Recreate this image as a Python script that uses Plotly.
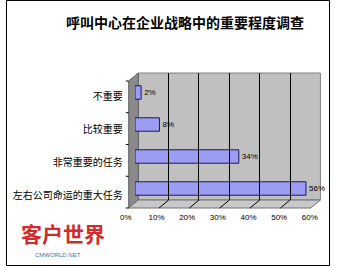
import plotly.graph_objects as go

# ---------------- data ----------------
title_text = "呼叫中心在企业战略中的重要程度调查"
categories = ["左右公司命运的重大任务", "非常重要的任务", "比较重要", "不重要"]  # bottom -> top
values = [56, 34, 8, 2]
value_labels = ["56%", "34%", "8%", "2%"]
x_ticks = [0, 10, 20, 30, 40, 50, 60]
x_tick_labels = ["0%", "10%", "20%", "30%", "40%", "50%", "60%"]
logo_text = "客户世界"
logo_sub = "CMWORLD.NET"

# ---------------- geometry helpers (pixels -> paper) ----------------
W, H = 338, 266
def px(x):
    return x / W
def py(y):
    return 1 - y / H

# back wall (pixels)
BW_L, BW_R, BW_T, BW_B = 138, 328, 73, 200
# front plane (pixels)
FR_L, FR_R, FR_B = 125, 317, 208
DX, DY = 10, 8  # depth offset

CJK = "Noto Sans CJK SC"
LAT = "Liberation Sans, Arial, sans-serif"

fig = go.Figure()

# bars (mid-depth plane)
fig.add_trace(go.Bar(
    y=categories, x=values, orientation="h",
    xaxis="x", yaxis="y",
    marker=dict(color="#9c9cf2", line=dict(color="#1a1a66", width=1)),
    width=0.42,
    text=value_labels, textposition="outside", cliponaxis=False,
    textfont=dict(family=LAT, size=8, color="#000000"),
    hoverinfo="skip",
))
# invisible trace for front axes (tick + category labels)
fig.add_trace(go.Bar(
    y=categories, x=values, orientation="h",
    xaxis="x2", yaxis="y2", marker=dict(opacity=0), hoverinfo="skip",
))
# invisible trace for back wall axes (gridlines)
fig.add_trace(go.Bar(
    y=categories, x=values, orientation="h",
    xaxis="x3", yaxis="y3", marker=dict(opacity=0), hoverinfo="skip",
))

shapes = []
# back wall
shapes.append(dict(type="rect", xref="paper", yref="paper", layer="below",
                   x0=px(BW_L), x1=px(BW_R), y0=py(BW_B), y1=py(BW_T),
                   fillcolor="#c0c0c0", line=dict(color="#808080", width=1)))
# left wall
path = (f"M {px(BW_L - DX)} {py(BW_T + DY)} L {px(BW_L)} {py(BW_T)} "
        f"L {px(BW_L)} {py(BW_B)} L {px(BW_L - DX)} {py(BW_B + DY)} Z")
shapes.append(dict(type="path", xref="paper", yref="paper", layer="below",
                   path=path, fillcolor="#8a8a8a", line=dict(color="#606060", width=1)))
# floor
path = (f"M {px(BW_L - DX)} {py(BW_B + DY)} L {px(BW_L)} {py(BW_B)} "
        f"L {px(BW_R)} {py(BW_B)} L {px(BW_R - DX)} {py(BW_B + DY)} Z")
shapes.append(dict(type="path", xref="paper", yref="paper", layer="below",
                   path=path, fillcolor="#c8c8c8", line=dict(color="#707070", width=1)))
# floor grid diagonals
for v in x_ticks[1:-1]:
    bx = BW_L + (BW_R - BW_L) * v / 60
    shapes.append(dict(type="line", xref="paper", yref="paper", layer="below",
                       x0=px(bx), y0=py(BW_B), x1=px(bx - DX), y1=py(BW_B + DY),
                       line=dict(color="#000000", width=1)))
# left wall category separators
for i in range(5):
    yy = BW_T + DY + i * (BW_B - BW_T) / 4
    shapes.append(dict(type="line", xref="paper", yref="paper", layer="below",
                       x0=px(BW_L - DX - 3), y0=py(yy), x1=px(BW_L - DX), y1=py(yy),
                       line=dict(color="#000000", width=1)))
# outer border
shapes.append(dict(type="rect", xref="paper", yref="paper",
                   x0=0.5 / W, x1=1 - 0.5 / W, y0=0.5 / H, y1=1 - 0.5 / H,
                   line=dict(color="#000000", width=1)))

annotations = [
    dict(text=f"<b>{title_text}</b>", x=px(186.5), y=py(22), xref="paper", yref="paper",
         showarrow=False, xanchor="center", yanchor="middle",
         font=dict(family=CJK, size=14, color="#000000")),
    dict(text=f"<b>{logo_text}</b>", x=px(14), y=py(233), xref="paper", yref="paper",
         showarrow=False, xanchor="left", yanchor="middle",
         font=dict(family=CJK, size=21, color="#d42a2a")),
    dict(text=logo_sub, x=px(28), y=py(255), xref="paper", yref="paper",
         showarrow=False, xanchor="left", yanchor="middle",
         font=dict(family=LAT, size=6, color="#4a6fa8")),
]

fig.update_layout(
    width=W, height=H,
    margin=dict(l=0, r=0, t=0, b=0),
    paper_bgcolor="#ffffff", plot_bgcolor="rgba(0,0,0,0)",
    showlegend=False,
    shapes=shapes, annotations=annotations,
    xaxis=dict(domain=[px(134.6), px(325.7)], range=[0, 60], visible=False, anchor="y"),
    yaxis=dict(domain=[py(204.5), py(76.5)], type="category", categoryarray=categories,
               range=[-0.5, 3.5], visible=False, anchor="x"),
    xaxis2=dict(domain=[px(FR_L), px(FR_R)], range=[0, 60], anchor="y2",
                tickvals=x_ticks, ticktext=x_tick_labels, showgrid=False, zeroline=False,
                showline=False, ticks="", tickfont=dict(family=LAT, size=8, color="#000000")),
    yaxis2=dict(domain=[py(211.4), py(80.6)], type="category", categoryarray=categories,
                range=[-0.5, 3.5], anchor="x2", showgrid=False, zeroline=False, showline=False,
                ticks="", ticklabelstandoff=2,
                tickfont=dict(family=CJK, size=10, color="#000000")),
    xaxis3=dict(domain=[px(BW_L), px(BW_R)], range=[0, 60], anchor="y3",
                tickvals=x_ticks[1:-1], showticklabels=False, showgrid=True,
                gridcolor="#000000", gridwidth=1, zeroline=False, showline=False, ticks=""),
    yaxis3=dict(domain=[py(BW_B), py(BW_T)], type="category", categoryarray=categories,
                range=[-0.5, 3.5], anchor="x3", showgrid=False, showticklabels=False,
                zeroline=False, showline=False, ticks=""),
)

fig.write_html("out.html")
